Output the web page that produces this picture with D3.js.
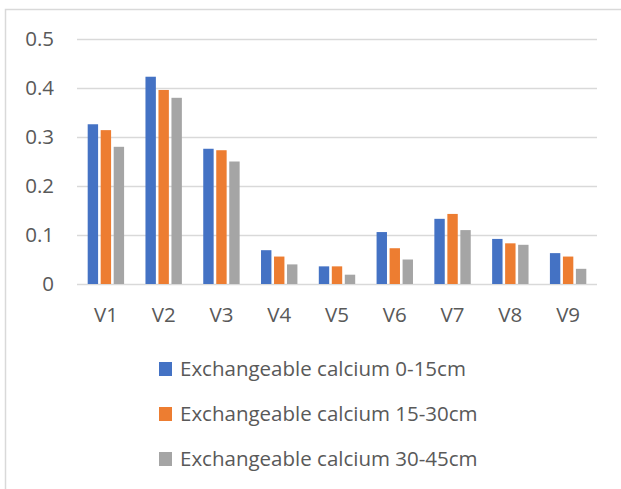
<!DOCTYPE html>
<html>
<head>
<meta charset="utf-8">
<script src="https://cdn.jsdelivr.net/npm/d3@7"></script>
<style>
  html, body { margin: 0; padding: 0; background: #fff; }
  svg { display: block; }
  text { font-family: "Open Sans", Lato, sans-serif; fill: #595959; }
</style>
</head>
<body>
<svg id="chart" width="621" height="489"></svg>
<script>
// Exchangeable calcium by site and soil depth
const categories = ["V1", "V2", "V3", "V4", "V5", "V6", "V7", "V8", "V9"];
const seriesNames = [
  "Exchangeable calcium 0-15cm",
  "Exchangeable calcium 15-30cm",
  "Exchangeable calcium 30-45cm"
];
const depth0to15  = [0.326, 0.423, 0.276, 0.069, 0.036, 0.106, 0.133, 0.092, 0.063];
const depth15to30 = [0.314, 0.396, 0.273, 0.056, 0.036, 0.073, 0.143, 0.083, 0.056];
const depth30to45 = [0.280, 0.380, 0.250, 0.040, 0.019, 0.050, 0.110, 0.080, 0.031];
const yTicks = [0, 0.1, 0.2, 0.3, 0.4, 0.5];
const colors = ["#4472C4", "#ED7D31", "#A5A5A5"];

const seriesValues = [depth0to15, depth15to30, depth30to45];
const FONT = "'Open Sans', Lato, sans-serif";
const FONT_SIZE = 20.5;

const svg = d3.select("#chart");

// chart frame
svg.append("rect")
  .attr("x", 5.5).attr("y", 9.5)
  .attr("width", 640).attr("height", 500)
  .attr("fill", "none")
  .attr("stroke", "#d9d9d9")
  .attr("stroke-width", 1.5);

const plot = { left: 77, right: 597, top: 39, bottom: 284 };

const x = d3.scaleBand()
  .domain(categories)
  .range([plot.left, plot.right])
  .paddingInner(0.37)
  .paddingOuter(0.185);

const sub = d3.scaleBand()
  .domain(d3.range(seriesNames.length))
  .range([0, x.bandwidth()])
  .paddingInner(0.2);

const y = d3.scaleLinear()
  .domain([0, 0.5])
  .range([plot.bottom, plot.top]);

// gridlines
svg.append("g")
  .selectAll("line")
  .data(yTicks)
  .join("line")
  .attr("x1", plot.left).attr("x2", plot.right)
  .attr("y1", d => Math.round(y(d)) + 0.5)
  .attr("y2", d => Math.round(y(d)) + 0.5)
  .attr("stroke", "#d9d9d9")
  .attr("stroke-width", 1.5);

// y axis labels
const yAxis = d3.axisLeft(y)
  .tickValues(yTicks)
  .tickFormat(d => d === 0 ? "0" : d3.format(".1f")(d))
  .tickSize(0)
  .tickPadding(0);

svg.append("g")
  .attr("transform", `translate(54,0)`)
  .call(yAxis)
  .call(g => g.select(".domain").remove())
  .call(g => g.selectAll("text")
    .attr("font-size", FONT_SIZE)
    .attr("fill", "#595959")
    .style("font-family", FONT));

// x axis labels
const xAxis = d3.axisBottom(x).tickSize(0).tickPadding(0);
svg.append("g")
  .attr("transform", `translate(0,${plot.bottom})`)
  .call(xAxis)
  .call(g => g.select(".domain").remove())
  .call(g => g.selectAll("text")
    .attr("y", 38)
    .attr("dy", null)
    .attr("font-size", FONT_SIZE)
    .attr("fill", "#595959")
    .style("font-family", FONT));

// bars
const groups = svg.append("g")
  .selectAll("g")
  .data(categories)
  .join("g")
  .attr("transform", d => `translate(${x(d)},0)`);

groups.selectAll("rect")
  .data((d, i) => seriesValues.map((vals, s) => ({ s, v: vals[i] })))
  .join("rect")
  .attr("x", d => sub(d.s))
  .attr("width", sub.bandwidth())
  .attr("y", d => y(d.v))
  .attr("height", d => y(0) - y(d.v))
  .attr("fill", d => colors[d.s]);

// legend
const legend = svg.append("g")
  .selectAll("g")
  .data(seriesNames)
  .join("g")
  .attr("transform", (d, i) => `translate(159,${362 + i * 45})`);

legend.append("rect")
  .attr("width", 13).attr("height", 14)
  .attr("fill", (d, i) => colors[i]);

legend.append("text")
  .attr("x", 21)
  .attr("y", 14)
  .attr("font-size", FONT_SIZE)
  .style("font-family", FONT)
  .text(d => d);
</script>
</body>
</html>
